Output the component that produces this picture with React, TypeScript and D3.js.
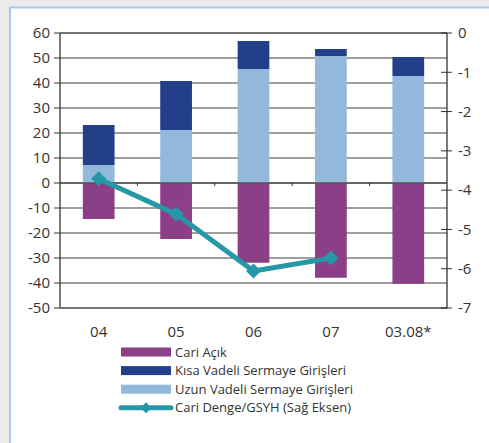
import React from "react";
import * as d3 from "d3";

// Years on the category axis
const categories = ["04", "05", "06", "07", "03.08*"];
// Current account deficit (left axis, bars below zero)
const cariAcik = [-14.4, -22.4, -31.9, -37.9, -40.3];
// Short-term capital inflows (stacked on top of long-term)
const kisaVadeli = [16.0, 19.6, 11.2, 2.8, 7.6];
// Long-term capital inflows
const uzunVadeli = [7.2, 21.2, 45.6, 50.8, 42.8];
// Current account balance / GDP (right axis)
const cariDenge = [-3.71, -4.61, -6.06, -5.73];

const leftTicks = [60, 50, 40, 30, 20, 10, 0, -10, -20, -30, -40, -50];
const rightTicks = [0, -1, -2, -3, -4, -5, -6, -7];

const W = 489;
const H = 443;
const M = { left: 60, right: 447, top: 33, bottom: 308 };

const C_PURPLE = "#8b3f86";
const C_DARK = "#233f8a";
const C_LIGHT = "#92b8dc";
const C_TEAL = "#2597a6";
const C_GRID = "#7f7f7f";
const C_TEXT = "#333333";
const FONT = "'Open Sans', sans-serif";

export default function App() {
  const x = d3.scaleBand<string>().domain(categories).range([M.left, M.right]).paddingInner(0.59).paddingOuter(0.295);
  const yL = d3.scaleLinear().domain([-50, 60]).range([M.bottom, M.top]);
  const yR = d3.scaleLinear().domain([-7, 0]).range([M.bottom, M.top]);
  const bw = x.bandwidth();
  const cx = (c: string) => (x(c) ?? 0) + bw / 2;

  const line = d3
    .line<number>()
    .x((_, i) => cx(categories[i]))
    .y((d) => yR(d));

  const diamond = (px: number, py: number, r: number) =>
    `M${px},${py - r}L${px + r},${py}L${px},${py + r}L${px - r},${py}Z`;

  const bandEdges = categories.slice(1).map((c) => (x(c) ?? 0) - (x.step() * x.paddingInner()) / 2);

  const legend = [
    { label: "Cari Açık", color: C_PURPLE, kind: "bar" },
    { label: "Kısa Vadeli Sermaye Girişleri", color: C_DARK, kind: "bar" },
    { label: "Uzun Vadeli Sermaye Girişleri", color: C_LIGHT, kind: "bar" },
    { label: "Cari Denge/GSYH (Sağ Eksen)", color: C_TEAL, kind: "line" },
  ];

  return (
    <svg
      width={W}
      height={H}
      style={{ position: "absolute", left: 0, top: 0, display: "block" }}
      fontFamily={FONT}
    >
      <rect x={0} y={0} width={W} height={H} fill="#ebebed" />
      <rect x={10} y={7.5} width={W} height={H} fill="#ffffff" stroke="#a8c9ec" strokeWidth={2} />

      {/* horizontal gridlines */}
      {leftTicks.map((t) => (
        <line key={t} x1={M.left} x2={M.right} y1={yL(t)} y2={yL(t)} stroke={t === 60 || t === -50 ? "#444" : C_GRID} strokeWidth={1.3} />
      ))}

      {/* bars */}
      {categories.map((c, i) => (
        <g key={c}>
          <rect x={x(c)} width={bw} y={yL(0)} height={yL(cariAcik[i]) - yL(0)} fill={C_PURPLE} />
          <rect x={x(c)} width={bw} y={yL(uzunVadeli[i])} height={yL(0) - yL(uzunVadeli[i])} fill={C_LIGHT} />
          <rect
            x={x(c)}
            width={bw}
            y={yL(uzunVadeli[i] + kisaVadeli[i])}
            height={yL(uzunVadeli[i]) - yL(uzunVadeli[i] + kisaVadeli[i])}
            fill={C_DARK}
          />
        </g>
      ))}

      {/* zero line with category ticks */}
      <line x1={M.left} x2={M.right} y1={yL(0)} y2={yL(0)} stroke="#555" strokeWidth={1.3} />
      {bandEdges.map((e, i) => (
        <line key={i} x1={e} x2={e} y1={yL(0)} y2={yL(0) + 3} stroke="#333" strokeWidth={1} />
      ))}

      {/* left axis */}
      <line x1={M.left} x2={M.left} y1={M.top} y2={M.bottom} stroke="#333" strokeWidth={1.3} />
      {leftTicks.map((t) => (
        <g key={t}>
          <line x1={M.left - 6} x2={M.left} y1={yL(t)} y2={yL(t)} stroke="#333" strokeWidth={1} />
          <text x={M.left - 10} y={yL(t)} dy="0.35em" textAnchor="end" fontSize={15} fill={C_TEXT}>
            {t}
          </text>
        </g>
      ))}

      {/* right axis */}
      <line x1={M.right} x2={M.right} y1={M.top} y2={M.bottom} stroke="#333" strokeWidth={1.3} />
      {rightTicks.map((t) => (
        <g key={t}>
          <line x1={M.right - 6} x2={M.right + 5} y1={yR(t)} y2={yR(t)} stroke="#333" strokeWidth={1} />
          <text x={M.right + 11} y={yR(t)} dy="0.35em" textAnchor="start" fontSize={15} fill={C_TEXT}>
            {t}
          </text>
        </g>
      ))}

      {/* category labels */}
      {categories.map((c) => (
        <text key={c} x={cx(c)} y={332} dy="0.35em" textAnchor="middle" fontSize={15} fill={C_TEXT}>
          {c}
        </text>
      ))}

      {/* current account / GDP line */}
      <path d={line(cariDenge) ?? ""} fill="none" stroke={C_TEAL} strokeWidth={5} strokeLinejoin="round" />
      {cariDenge.map((d, i) => (
        <path key={i} d={diamond(cx(categories[i]), yR(d), 7.5)} fill={C_TEAL} />
      ))}

      {/* legend */}
      {legend.map((l, i) => {
        const ly = 352 + i * 18.6;
        return (
          <g key={l.label}>
            {l.kind === "bar" ? (
              <rect x={121} y={ly - 4.5} width={50} height={9} fill={l.color} />
            ) : (
              <g>
                <line x1={121} x2={171} y1={ly} y2={ly} stroke={l.color} strokeWidth={5} strokeLinecap="round" />
                <path d={diamond(146, ly, 5.5)} fill={l.color} />
              </g>
            )}
            <text x={175} y={ly} dy="0.35em" fontSize={13} fill={C_TEXT}>
              {l.label}
            </text>
          </g>
        );
      })}
    </svg>
  );
}
